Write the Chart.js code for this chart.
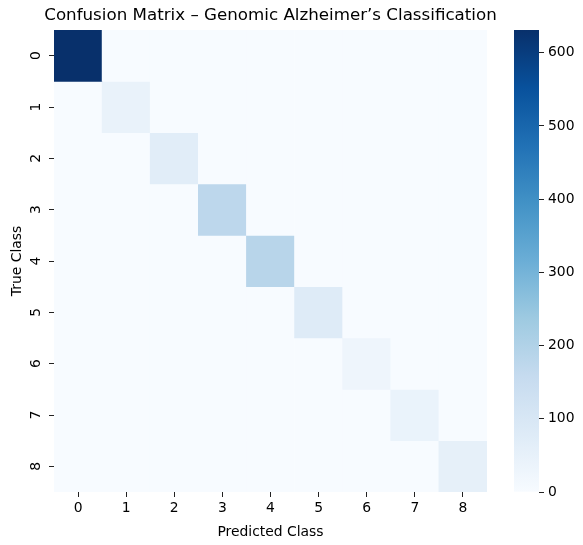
<!DOCTYPE html>
<html>
<head>
<meta charset="utf-8">
<script src="https://cdn.jsdelivr.net/npm/chart.js@4.4.0/dist/chart.umd.min.js"></script>
<style>
  body { margin: 0; background: #fff; }
  #wrap { position: relative; width: 583px; height: 545px; }
  #heat { position: absolute; left: 0; top: 0; }
  #bar { position: absolute; left: 500px; top: 0; }
</style>
</head>
<body>
<div id="wrap">
  <canvas id="heat" width="541" height="545"></canvas>
  <canvas id="bar" width="83" height="545"></canvas>
</div>
<script>
const classes = ['0', '1', '2', '3', '4', '5', '6', '7', '8'];

// rows = true class, columns = predicted class
const counts = [
  [631, 0, 0, 0, 0, 0, 0, 0, 0],
  [0, 45, 0, 0, 0, 0, 0, 0, 0],
  [0, 0, 70, 0, 0, 0, 0, 0, 0],
  [0, 0, 0, 176, 0, 0, 0, 0, 0],
  [0, 0, 0, 0, 186, 0, 0, 0, 0],
  [0, 0, 0, 0, 0, 80, 0, 0, 0],
  [0, 0, 0, 0, 0, 0, 28, 0, 0],
  [0, 0, 0, 0, 0, 0, 0, 40, 0],
  [0, 0, 0, 0, 0, 0, 0, 0, 55]
];

const colorbarTicks = [0, 100, 200, 300, 400, 500, 600];
const vmax = 631;

Chart.defaults.font.family = 'DejaVu Sans';
Chart.defaults.color = '#000';

// matplotlib "Blues"
const bluesStops = [
  [247, 251, 255], [222, 235, 247], [198, 219, 239], [158, 202, 225],
  [107, 174, 214], [66, 146, 198], [33, 113, 181], [8, 81, 156], [8, 48, 107]
];

function blues(t) {
  t = Math.max(0, Math.min(1, t));
  const pos = t * (bluesStops.length - 1);
  const i = Math.min(Math.floor(pos), bluesStops.length - 2);
  const f = pos - i;
  const a = bluesStops[i], b = bluesStops[i + 1];
  const c = a.map((v, k) => Math.round(v + (b[k] - v) * f));
  return `rgb(${c[0]},${c[1]},${c[2]})`;
}

const tickFont = { size: 13.9 };
const tickColor = '#222';

// Тепловая карта: каждая строка - отдельный набор плавающих столбиков
const datasets = counts.map((row, r) => ({
  label: 'True ' + classes[r],
  data: row.map(() => [r, r + 1]),
  backgroundColor: row.map(v => blues(v / vmax)),
  borderWidth: 0,
  grouped: false,
  barPercentage: 1,
  categoryPercentage: 1
}));

// холст шириной 541 + пустая правая ось, чтобы заголовок был по центру области графика
new Chart(document.getElementById('heat'), {
  type: 'bar',
  data: { labels: classes, datasets },
  options: {
    responsive: false,
    animation: false,
    layout: { padding: 0 },
    plugins: {
      legend: { display: false },
      tooltip: { enabled: false },
      title: {
        display: true,
        text: 'Confusion Matrix – Genomic Alzheimer’s Classification',
        font: { size: 16.7, weight: 'normal' },
        color: '#000',
        padding: { top: 6, bottom: 3.96 }
      }
    },
    scales: {
      x: {
        offset: true,
        grid: { display: true, drawOnChartArea: false, offset: false, tickLength: 5, color: tickColor, lineWidth: 1 },
        border: { display: false },
        ticks: { font: tickFont, padding: 3, maxRotation: 0 },
        title: { display: true, text: 'Predicted Class', font: tickFont, padding: { top: 0, bottom: 4.7 } },
        afterFit: s => { s.height = 53; }
      },
      y: {
        type: 'linear',
        min: 0,
        max: 9,
        reverse: true,
        afterBuildTicks: s => { s.ticks = classes.map((c, i) => ({ value: i + 0.5 })); },
        grid: { display: true, drawOnChartArea: false, tickLength: 5, color: tickColor, lineWidth: 1 },
        border: { display: false },
        ticks: {
          callback: v => classes[Math.floor(v)],
          minRotation: 90,
          maxRotation: 90,
          crossAlign: 'center',
          padding: 8.6,
          font: tickFont
        },
        title: { display: true, text: 'True Class', font: tickFont, padding: { top: 8.7, bottom: 0 } },
        afterFit: s => { s.width = 54; }
      },
      spacer: {
        type: 'linear',
        position: 'right',
        grid: { display: false },
        border: { display: false },
        ticks: { display: false },
        afterFit: s => { s.width = 54; }
      }
    }
  }
});

// Шкала цвета
function barGradient(chart) {
  const area = chart.chartArea;
  if (!area) return blues(0.5);
  const g = chart.ctx.createLinearGradient(0, area.bottom, 0, area.top);
  bluesStops.forEach((c, i) => {
    g.addColorStop(i / (bluesStops.length - 1), `rgb(${c[0]},${c[1]},${c[2]})`);
  });
  return g;
}

new Chart(document.getElementById('bar'), {
  type: 'bar',
  data: {
    labels: [''],
    datasets: [{
      data: [[0, vmax]],
      backgroundColor: ctx => barGradient(ctx.chart),
      borderWidth: 0,
      barPercentage: 1,
      categoryPercentage: 1
    }]
  },
  options: {
    responsive: false,
    animation: false,
    layout: { padding: { left: 14, right: 0, top: 30, bottom: 53 } },
    plugins: { legend: { display: false }, tooltip: { enabled: false } },
    scales: {
      x: { display: false },
      y: {
        position: 'right',
        min: 0,
        max: vmax,
        afterBuildTicks: s => { s.ticks = colorbarTicks.map(v => ({ value: v })); },
        grid: { display: true, drawOnChartArea: false, tickLength: 5, color: tickColor, lineWidth: 1 },
        border: { display: false },
        ticks: { padding: 4, font: tickFont },
        afterFit: s => { s.width = 44; }
      }
    }
  }
});
</script>
</body>
</html>
